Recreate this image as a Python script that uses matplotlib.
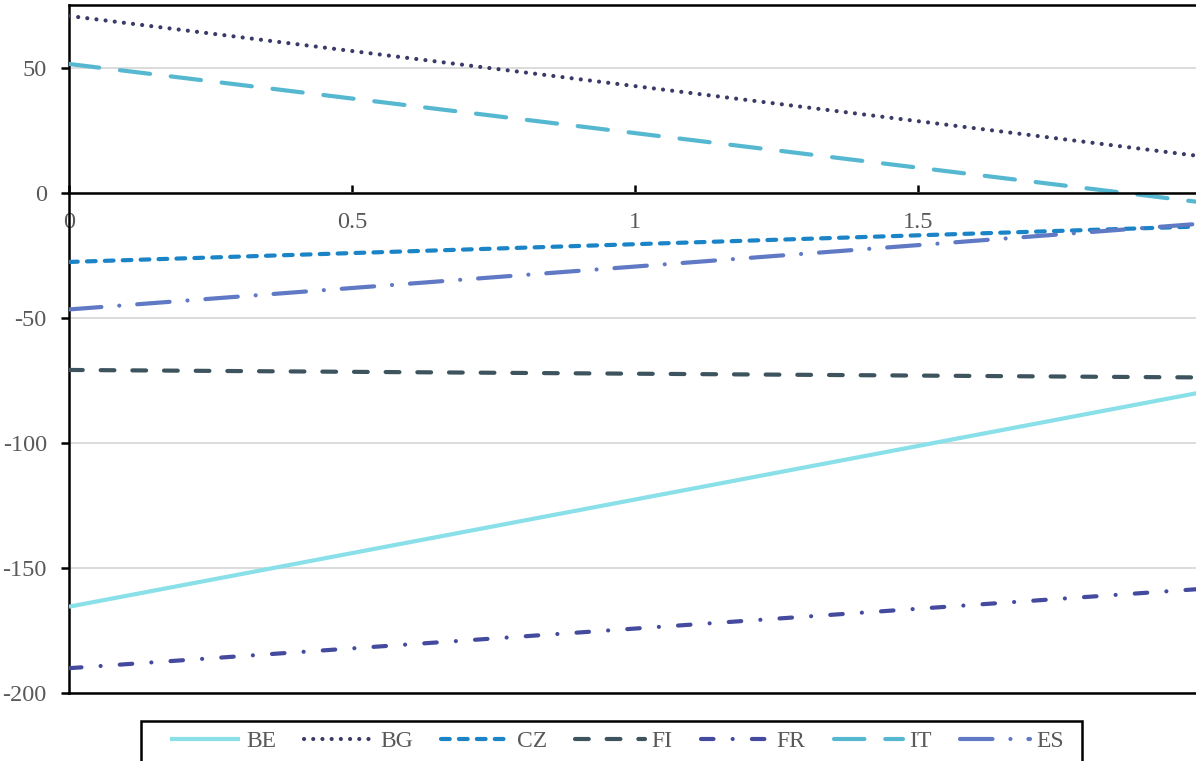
import matplotlib
matplotlib.use("Agg")
import matplotlib.pyplot as plt
from matplotlib.patches import Rectangle

# Data
x_values = [0, 2]
series_names = ["BE", "BG", "CZ", "FI", "FR", "IT", "ES"]
be_values = [-165.6, -79.9]
bg_values = [70.7, 14.6]
cz_values = [-27.7, -13.5]
fi_values = [-70.9, -73.9]
fr_values = [-190.2, -158.5]
it_values = [51.5, -3.8]
es_values = [-46.7, -12.4]
y_ticks = [-200, -150, -100, -50, 0, 50]
x_ticks = [0, 0.5, 1, 1.5, 2]
x_tick_labels = ["0", "0.5", "1", "1.5", "2"]

series_values = [be_values, bg_values, cz_values, fi_values, fr_values, it_values, es_values]
colors = ["#8ae0e8", "#3a3a66", "#1a84c6", "#3d545e", "#444b9e", "#56b8d0", "#6079c4"]
styles = [
    "-",
    (0, (0.01, 2.2)),
    (0, (2.1, 2.2)),
    (0, (3.3, 4.3)),
    (0, (3.0, 4.6, 0.01, 4.6)),
    (0, (7.3, 5.0)),
    (0, (7.8, 4.3, 0.01, 4.3)),
]

plt.rcParams["font.family"] = ["Liberation Serif", "DejaVu Serif"]
plt.rcParams["axes.unicode_minus"] = False

W, H = 1196, 761
fig = plt.figure(figsize=(W / 100, H / 100), dpi=100)
ax = fig.add_axes([69 / W, 1 - 692.7 / H, 1131.6 / W, 687.5 / H])

for name, vals, c, ls in zip(series_names, series_values, colors, styles):
    ax.plot(x_values, vals, color=c, linestyle=ls, lw=3.0, label=name,
            dash_capstyle="round", solid_capstyle="butt", zorder=3)

ax.set_xlim(0, 2)
ax.set_ylim(-200, 75)
ax.set_yticks(y_ticks)
ax.set_xticks(x_ticks)
ax.set_xticklabels(x_tick_labels)

ax.grid(axis="y", color="#d9d9d9", lw=1.3, zorder=0)
ax.grid(axis="x", visible=False)

for s in ["left", "top", "bottom"]:
    ax.spines[s].set_linewidth(1.8)
    ax.spines[s].set_color("black")
ax.spines["right"].set_visible(False)
ax.spines["bottom"].set_position(("data", 0))
ax.spines["bottom"].set_zorder(4)
ax.axhline(-200, color="black", lw=1.8, clip_on=False, zorder=4)

ax.tick_params(axis="y", direction="out", length=6, width=1.8, color="black",
               labelsize=17.5, labelcolor="#595959", pad=10)
ax.tick_params(axis="x", direction="in", length=6, width=1.8, color="black",
               labelsize=17.5, labelcolor="#595959", pad=14)

# Legend
leg = fig.legend(loc="center left", bbox_to_anchor=(170 / W, 1 - 741 / H),
                 ncol=7, frameon=False, fontsize=17, handlelength=2.95,
                 handletextpad=0.27, columnspacing=1.19, borderpad=0,
                 borderaxespad=0)
for t in leg.get_texts():
    t.set_color("#595959")

fig.patches.append(Rectangle((141 / W, -0.05), (1082 - 141) / W, 0.05 + 1 - 720.5 / H,
                             transform=fig.transFigure, fill=False,
                             edgecolor="black", lw=1.8))

fig.savefig("out.png", dpi=100)
